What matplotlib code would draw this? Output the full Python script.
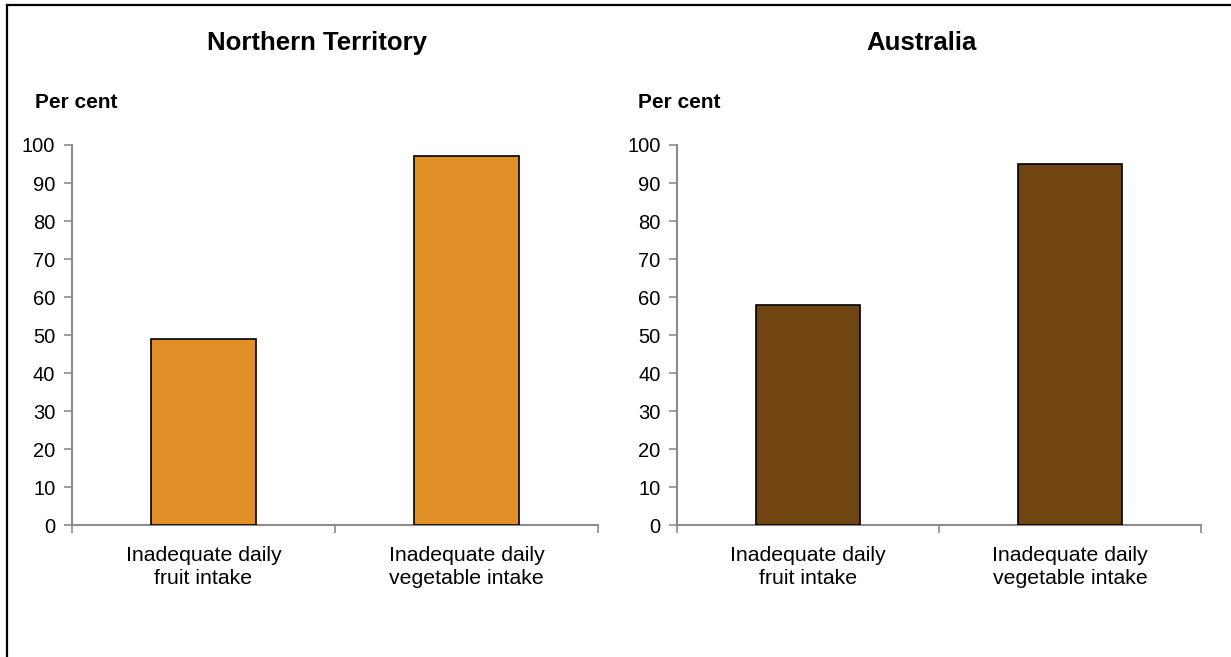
import matplotlib.pyplot as plt
from matplotlib.lines import Line2D

plt.rcParams['font.family'] = ['Liberation Sans', 'DejaVu Sans']

# Data
categories = ["Inadequate daily\nfruit intake", "Inadequate daily\nvegetable intake"]
nt_values = [49, 97]
aus_values = [58, 95]
panel_titles = ["Northern Territory", "Australia"]
panel_colors = ["#E18F27", "#704512"]
yticks = list(range(0, 101, 10))

fig = plt.figure(figsize=(12.31, 6.57), dpi=100)

# panel axes positions (figure fraction)
positions = [
    [0.0585, 0.2009, 0.4273, 0.5784],
    [0.5500, 0.2009, 0.4257, 0.5784],
]
title_x = [317 / 1231, 922 / 1231]
percent_x = [35 / 1231, 638 / 1231]
axis_grey = "#8C8C8C"

for pos, title, values, color, tx, px in zip(positions, panel_titles,
                                             [nt_values, aus_values],
                                             panel_colors, title_x, percent_x):
    ax = fig.add_axes(pos)
    x = list(range(len(categories)))
    ax.bar(x, values, width=0.4, color=color, edgecolor="black", linewidth=1.2, zorder=3)
    ax.set_xlim(-0.5, len(categories) - 0.5)
    ax.set_ylim(0, 100)
    ax.set_yticks(yticks)
    ax.set_xticks(x)
    ax.set_xticklabels(categories, fontsize=15.3, linespacing=1.3)
    ax.set_xticks([-0.5, 0.5, 1.5], minor=True)
    ax.tick_params(axis="x", which="major", length=0, pad=15)
    ax.tick_params(axis="x", which="minor", length=6, color=axis_grey, width=1.2)
    ax.tick_params(axis="y", length=6, color=axis_grey, width=1.2, labelsize=14.5, pad=6)
    for side in ["top", "right"]:
        ax.spines[side].set_visible(False)
    for side in ["left", "bottom"]:
        ax.spines[side].set_color(axis_grey)
        ax.spines[side].set_linewidth(1.5)

    fig.text(tx, 1 - 43 / 657, title, ha="center", va="center",
             fontsize=18.5, fontweight="bold")
    fig.text(px, 1 - 102 / 657, "Per cent", ha="left", va="center",
             fontsize=15, fontweight="bold")

# outer frame lines (left and top only)
fig.add_artist(Line2D([7 / 1231, 7 / 1231], [0, 1 - 5 / 657], color="black",
                      linewidth=1.6, transform=fig.transFigure))
fig.add_artist(Line2D([7 / 1231, 1], [1 - 5 / 657, 1 - 5 / 657], color="black",
                      linewidth=1.6, transform=fig.transFigure))

fig.savefig("out.png", dpi=100)
